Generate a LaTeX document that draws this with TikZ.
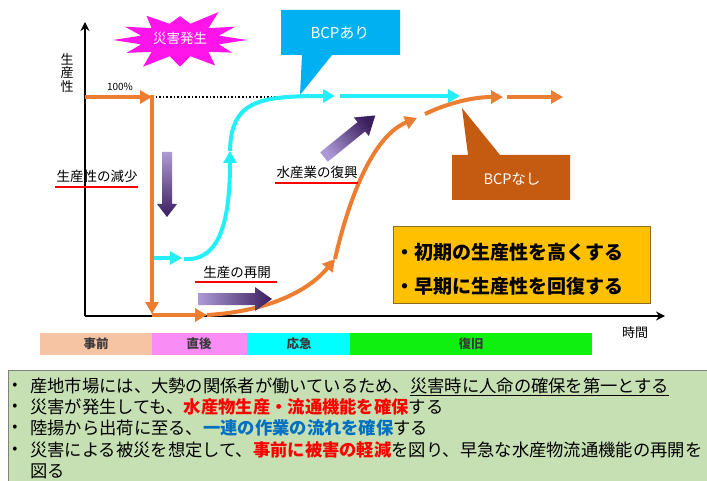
\documentclass[tikz,border=0pt]{standalone}
\usepackage{fontspec}
\setmainfont{Noto Sans CJK JP}
\usetikzlibrary{arrows.meta}
\definecolor{org}{HTML}{ED7D31}
\definecolor{cyn}{HTML}{22EFF8}
\definecolor{mag}{HTML}{FF14EA}
\definecolor{bcpa}{HTML}{00B0F0}
\definecolor{bcpn}{HTML}{C55A11}
\definecolor{yel}{HTML}{FFC000}
\definecolor{yelb}{HTML}{8C6D1F}
\definecolor{tla}{HTML}{F6C4A3}
\definecolor{tlb}{HTML}{FA8CF5}
\definecolor{tlc}{HTML}{00FFFF}
\definecolor{tld}{HTML}{10F010}
\definecolor{botfill}{HTML}{C6E0B4}
\definecolor{botdraw}{HTML}{7F7F7F}
\definecolor{plight}{HTML}{AC9AD6}
\definecolor{pdark}{HTML}{3B1E5E}
\definecolor{redt}{HTML}{FF0000}
\definecolor{bluet}{HTML}{0070C0}
\definecolor{tltext}{HTML}{3A3A3A}
\begin{document}
\begin{tikzpicture}[x=1pt,y=-1pt,
  orangeline/.style={draw=org, line width=4pt, -{Triangle[length=12pt,width=13pt]}},
  cyanline/.style={draw=cyn, line width=4pt, -{Triangle[length=12pt,width=13pt]}},
  axisline/.style={draw=black, line width=1.6pt, -{Stealth[length=9pt,width=9pt]}},
  lbl/.style={font=\fontsize{13.5}{14}\selectfont, inner sep=0pt},
  redul/.style={draw=redt, line width=2.5pt},
  wtxt/.style={text=white, inner sep=0pt},
  tlbox/.style={font=\fontsize{12.5}{13}\selectfont\bfseries, text=tltext, inner sep=0pt},
  btxt/.style={font=\fontsize{17.3}{20}\selectfont, inner sep=0pt, anchor=base west},
  bullet/.style={font=\fontsize{15}{16}\selectfont, inner sep=0pt},
  ytxt/.style={font=\fontsize{19}{20}\selectfont\bfseries, inner sep=0pt, anchor=base west}
]
\useasboundingbox (0,0) rectangle (707,481);
\fill[white] (0,0) rectangle (707,481);

% axes
\coordinate (o) at (85,316);
\coordinate (ytop) at (85,22);
\coordinate (xend) at (665,316);
\draw[axisline] (o) -- (ytop);
\draw[axisline] (o) -- (xend);
\node[font=\fontsize{13}{13.5}\selectfont, align=center, inner sep=0pt] (ylab) at (67,73) {生\\産\\性};
\node[font=\fontsize{10}{11}\selectfont, inner sep=0pt] (pct) at (120,87) {100\%};
\node[font=\fontsize{13}{14}\selectfont, inner sep=0pt] (xlab) at (635,333) {時間};

% coordinates
\coordinate (p0) at (85,97);
\coordinate (p1) at (152,97);
\coordinate (p1b) at (152,95);
\coordinate (p2) at (152,314);
\coordinate (p2b) at (152,315);
\coordinate (p3) at (207,315);
\coordinate (p4) at (335,259);
\coordinate (p5) at (417,118);
\coordinate (p5b) at (425,114);
\coordinate (p6) at (503,97);
\coordinate (p6b) at (507,97);
\coordinate (p7) at (563,97);
\coordinate (c0) at (152,258);
\coordinate (c1) at (182,258);
\coordinate (c1b) at (184,259);
\coordinate (c2) at (230,151);
\coordinate (c3) at (335,96);
\coordinate (c3b) at (340,96);
\coordinate (c4) at (460,96);
\coordinate (d1) at (300,97);

% dotted
\draw[black, line width=1.6pt, dotted] (p1) -- (d1);

% cyan
\draw[cyanline] (c0) -- (c1);
\draw[cyanline] (c1b) .. controls (222,262) and (230,215) .. (c2);
\draw[cyanline] (c2) .. controls (231,100) and (260,96) .. (c3);
\draw[cyanline] (c3b) -- (c4);

% orange
\draw[orangeline] (p0) -- (p1);
\draw[orangeline] (p1b) -- (p2);
\draw[orangeline] (p2b) -- (p3);
\draw[orangeline] (p3) .. controls (260,312) and (305,295) .. (p4);
\draw[orangeline] (p4) .. controls (345,215) and (368,138) .. (p5);
\draw[orangeline] (p5b) .. controls (450,102) and (475,97) .. (p6);
\draw[orangeline] (p6b) -- (p7);

% purple arrows
\shade[top color=plight, bottom color=pdark]
  (162,152) -- (172,152) -- (172,204) -- (177,204) -- (167,217) -- (157,204) -- (162,204) -- cycle;
\shade[left color=plight, right color=pdark]
  (198,293) -- (255,293) -- (255,287) -- (272,299) -- (255,311) -- (255,305) -- (198,305) -- cycle;
\begin{scope}[shift={(324,157)}, rotate=39]
\shade[top color=pdark, bottom color=plight, shading angle=-51]
  (0,-6) -- (48,-6) -- (48,-12) -- (66,0) -- (48,12) -- (48,6) -- (0,6) -- cycle;
\end{scope}

% labels with red underline
\node[lbl] (lgen) at (97,176) {生産性の減少};
\draw[redul] (55,187) -- (138,187);
\node[lbl] (lfuk) at (317,172) {水産業の復興};
\draw[redul] (275,183) -- (358,183);
\node[lbl] (lsai) at (237,272) {生産の再開};
\draw[redul] (195,282) -- (277,282);

% starburst
\fill[mag] ([shift={(180,40)}]0:67pt and 28pt)
  \foreach \a/\r in {15/0.6,30/0.95,45/0.6,60/1.15,75/0.6,90/0.85,105/0.6,120/1.0,135/0.6,150/0.95,165/0.6,180/1.0,195/0.6,210/0.92,225/0.6,240/1.1,255/0.6,270/0.95,285/0.6,300/1.05,315/0.6,330/0.9,345/0.6}
  { -- ([shift={(180,40)}]\a:{67*\r pt} and {28*\r pt}) } -- cycle;
\node[wtxt, font=\fontsize{13.5}{14}\selectfont] (saigai) at (180,38) {災害発生};

% callouts
\fill[bcpa] (281,10) -- (400,10) -- (400,55) -- (332,55) -- (300,95) -- (302,55) -- (281,55) -- cycle;
\node[wtxt, font=\fontsize{15}{16}\selectfont] (bcpari) at (340,33) {BCPあり};
\fill[bcpn] (452,155) -- (468,155) -- (462,108) -- (500,155) -- (570,155) -- (570,200) -- (452,200) -- cycle;
\node[wtxt, font=\fontsize{14.5}{15}\selectfont] (bcpnashi) at (512,179) {BCPなし};

% yellow box
\draw[fill=yel, draw=yelb, line width=1pt] (393,227) rectangle (650,303);
\node[ytxt] (y1) at (395,259) {・初期の生産性を高くする};
\node[ytxt] (y2) at (395,294) {・早期に生産性を回復する};

% timeline
\fill[tla] (40,333) rectangle (152,355);
\fill[tlb] (152,333) rectangle (247,355);
\fill[tlc] (247,333) rectangle (350,355);
\fill[tld] (350,333) rectangle (592,355);
\node[tlbox] (t1) at (96,344) {事前};
\node[tlbox] (t2) at (199,344) {直後};
\node[tlbox] (t3) at (299,344) {応急};
\node[tlbox] (t4) at (471,344) {復旧};

% bottom box
\draw[fill=botfill, draw=botdraw, line width=1pt] (8,370) rectangle (712,490);
\node[bullet] (b1) at (15,386) {•};
\node[bullet] (b2) at (15,407) {•};
\node[bullet] (b3) at (15,428) {•};
\node[bullet] (b4) at (15,450) {•};
\node[btxt] (l1) at (30,392.5) {産地市場には、大勢の関係者が働いているため、\underline{災害時に人命の確保を第一とする}};
\node[btxt] (l2) at (30,413.5) {災害が発生しても、{\bfseries\color{redt}水産物生産・流通機能を確保}する};
\node[btxt] (l3) at (30,434.5) {陸揚から出荷に至る、{\bfseries\color{bluet}一連の作業の流れを確保}する};
\node[btxt] (l4) at (30,456.5) {災害による被災を想定して、{\bfseries\color{redt}事前に被害の軽減}を図り、早急な水産物流通機能の再開を};
\node[btxt] (l5) at (30,477.5) {図る};
\end{tikzpicture}
\end{document}
